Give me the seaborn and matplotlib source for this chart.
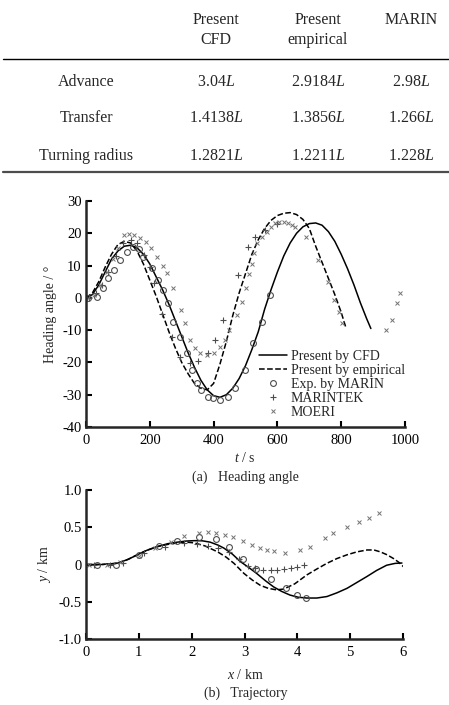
import numpy as np
import pandas as pd
import matplotlib
matplotlib.use('Agg')
import matplotlib.pyplot as plt
import seaborn as sns

sns.set_style('ticks')
plt.rcParams['font.family'] = ['Liberation Serif', 'DejaVu Serif']
plt.rcParams['mathtext.fontset'] = 'custom'
plt.rcParams['mathtext.rm'] = 'Liberation Serif'
plt.rcParams['mathtext.it'] = 'Liberation Serif:italic'
plt.rcParams['axes.unicode_minus'] = False

# table
col_heads = ['Present\nCFD', 'Present\nempirical', 'MARIN']
row_names = ['Advance', 'Transfer', 'Turning radius']
tab_vals = [['3.04', '2.9184', '2.98'],
            ['1.4138', '1.3856', '1.266'],
            ['1.2821', '1.2211', '1.228']]

# (a) heading angle
t_cfd = [0, 20, 40, 60, 80, 100, 120, 140, 160, 180, 200, 220, 240, 260, 280, 300, 320, 340, 360, 380,
         400, 420, 440, 460, 480, 500, 520, 540, 560, 580, 600, 620, 640, 660, 680, 700, 720, 740, 760,
         780, 800, 820, 840, 860, 880, 893]
h_cfd = [0, 1, 4, 8, 12, 14.5, 16, 16.3, 15.5, 13.5, 10.5, 6.5, 2.5, -2, -7, -12, -17, -21.5, -25.5, -28.5,
         -30.3, -30.8, -30, -28, -25, -21, -16, -10.5, -3.5, 2.5, 8, 13, 17, 20, 22, 23, 23.2, 22.5, 20.5,
         17.5, 13.5, 9, 4, -1.5, -6.5, -9.5]
t_emp = [0, 20, 40, 60, 80, 100, 120, 140, 160, 180, 200, 220, 240, 260, 280, 300, 320, 340, 360, 380,
         400, 420, 440, 460, 480, 500, 520, 540, 560, 580, 600, 620, 640, 660, 680, 700, 720, 740, 760,
         780, 800, 814]
h_emp = [0, 1.5, 5, 9.5, 13.5, 16.5, 17.5, 17, 14.5, 10.5, 5.5, 0.5, -5, -10.5, -15.5, -20, -23.5, -26.5,
         -28, -28.5, -26.5, -20.5, -13.5, -5.5, 1.5, 7.5, 13.5, 18, 21.5, 24, 25.5, 26.2, 26.4, 25.8, 24.3,
         21.5, 16, 11, 6, 1, -4.5, -9]
t_marin = [7, 34, 54, 70, 88, 107, 128, 148, 165, 180, 206, 227, 242, 258, 274, 295, 316, 331, 347, 362,
           383, 398, 420, 446, 467, 498, 525, 551, 577]
h_marin = [0, 0.2, 3, 6, 8.6, 11.7, 14.3, 15.7, 15, 12.8, 9.2, 5.5, 2.4, -1.7, -7.4, -12, -17.2, -22.3,
           -26.4, -28.5, -30.6, -31, -31.6, -30.6, -28, -22.3, -14, -7.4, 0.9]
t_mtek = [10, 30, 50, 70, 93, 115, 140, 160, 182, 200, 213, 239, 269, 295, 326, 352, 383, 404, 430, 477,
          509, 530, 561, 598]
h_mtek = [0, 1.5, 4, 8, 13, 17, 18, 17, 13.3, 9.5, 4.5, -5, -12, -18.2, -20.3, -19.7, -17.2, -13, -6.8,
          7.1, 15.9, 19, 21, 23]
t_moeri = [5, 25, 45, 65, 85, 100, 119, 135, 150, 168, 187, 205, 224, 240, 255, 274, 297, 310, 326, 342,
           357, 378, 400, 420, 436, 449, 472, 488, 500, 512, 520, 528, 537, 551, 566, 580, 592, 605, 620,
           634, 645, 655, 690, 728, 760, 778, 794, 804, 942, 958, 976, 984]
h_moeri = [0, 1, 4, 8, 12, 15.5, 19.5, 19.7, 19.5, 18.5, 17.4, 15.5, 12.8, 10, 7.6, 3, -3.7, -7.9, -13,
           -15.6, -17.2, -17.7, -17, -15.1, -13, -9.9, -5.3, -1.2, 3, 7.5, 10.5, 13.8, 16.9, 19, 20.5, 22,
           23.1, 23.5, 23.4, 23.1, 22.6, 22, 18.8, 11.7, 5, -0.7, -4.3, -7.7, -10, -6.8, -1.7, 1.4]

# (b) trajectory
x_cfd = [0, 0.3, 0.59, 0.8, 0.97, 1.15, 1.35, 1.55, 1.73, 1.9, 2.05, 2.2, 2.35, 2.5, 2.61, 2.77, 2.92,
         3.08, 3.23, 3.4, 3.55, 3.7, 3.86, 4.02, 4.18, 4.37, 4.56, 4.75, 4.94, 5.13, 5.32, 5.5, 5.69,
         5.85, 5.98]
y_cfd = [0, 0, 0.016, 0.07, 0.13, 0.19, 0.24, 0.28, 0.30, 0.315, 0.32, 0.318, 0.30, 0.26, 0.22, 0.14,
         0.04, -0.04, -0.12, -0.22, -0.30, -0.36, -0.41, -0.44, -0.45, -0.45, -0.43, -0.38, -0.32, -0.24,
         -0.16, -0.08, -0.01, 0.015, 0.02]
x_emp = [0, 0.3, 0.59, 0.8, 0.97, 1.15, 1.35, 1.55, 1.73, 1.9, 2.05, 2.25, 2.49, 2.65, 2.8, 2.99, 3.15,
         3.3, 3.45, 3.6, 3.74, 3.95, 4.18, 4.37, 4.56, 4.75, 4.94, 5.13, 5.32, 5.45, 5.57, 5.7, 5.82,
         5.92, 6.01]
y_emp = [0, 0, 0.016, 0.07, 0.13, 0.19, 0.24, 0.27, 0.29, 0.30, 0.29, 0.25, 0.17, 0.10, 0.016, -0.12,
         -0.21, -0.28, -0.32, -0.34, -0.33, -0.26, -0.14, -0.06, 0.016, 0.08, 0.13, 0.17, 0.195, 0.195,
         0.17, 0.13, 0.08, 0.03, -0.03]
x_marin = [0.21, 0.56, 1.0, 1.38, 1.73, 2.14, 2.46, 2.71, 2.98, 3.22, 3.50, 3.78, 4.0, 4.17]
y_marin = [0, 0, 0.13, 0.25, 0.31, 0.37, 0.34, 0.23, 0.08, -0.06, -0.19, -0.32, -0.41, -0.45]
x_mtek = [0.15, 0.45, 0.7, 1.1, 1.5, 1.85, 2.1, 2.3, 2.5, 2.7, 2.9, 3.06, 3.2, 3.35, 3.5, 3.62, 3.75,
          3.88, 4.0, 4.12]
y_mtek = [0, 0, 0.02, 0.15, 0.24, 0.29, 0.27, 0.25, 0.22, 0.17, 0.08, -0.02, -0.05, -0.07, -0.07, -0.07,
          -0.06, -0.05, -0.03, 0.0]
x_moeri = [0.05, 0.4, 0.65, 1.0, 1.3, 1.6, 1.86, 2.14, 2.3, 2.46, 2.63, 2.79, 2.98, 3.14, 3.30, 3.42,
           3.55, 3.77, 4.05, 4.24, 4.53, 4.68, 4.94, 5.16, 5.35, 5.54]
y_moeri = [0, 0, 0.03, 0.12, 0.22, 0.3, 0.38, 0.42, 0.43, 0.42, 0.40, 0.37, 0.31, 0.26, 0.22, 0.195,
           0.18, 0.15, 0.195, 0.24, 0.35, 0.42, 0.51, 0.575, 0.63, 0.69]

W, H = 449, 705
fig = plt.figure(figsize=(W / 100, H / 100), dpi=100)


def fx(px):
    return px / W


def fy(px):
    return 1 - px / H


# ---- table ----
col_x = [216, 318, 411]
row_y = [82, 118, 156]
fs_tab = 11.5
for cx, head in zip(col_x, col_heads):
    fig.text(fx(cx), fy(12), head, ha='center', va='top', fontsize=fs_tab, linespacing=1.3)
for ry, name, vals in zip(row_y, row_names, tab_vals):
    fig.text(fx(86), fy(ry), name, ha='center', va='center', fontsize=fs_tab)
    for cx, v in zip(col_x, vals):
        fig.text(fx(cx), fy(ry), v + '$L$', ha='center', va='center', fontsize=fs_tab)
fig.add_artist(plt.Line2D([fx(3), 1], [fy(59), fy(59)], color='k', lw=1.0))
fig.add_artist(plt.Line2D([fx(3), 1], [fy(172), fy(172)], color='0.3', lw=1.6))

mk = dict(linestyle='', estimator=None, sort=False)
circ = dict(marker='o', markersize=4.2, markerfacecolor='none', markeredgecolor='0.3',
            markeredgewidth=0.8, color='0.3')
plus = dict(marker='+', markersize=5, markeredgewidth=0.8, markeredgecolor='0.3', color='0.3')
cross = dict(marker='x', markersize=3.5, markeredgewidth=0.7, markeredgecolor='0.45', color='0.45')


def style_ax(ax):
    sns.despine(ax=ax)
    for s in ['left', 'bottom']:
        ax.spines[s].set_linewidth(1.8)
    ax.tick_params(direction='in', length=4, width=1.5, labelsize=10.5, colors='k')
    ax.tick_params(axis='x', pad=5)
    ax.tick_params(axis='y', pad=3)


# ---- (a) heading angle ----
ax1 = fig.add_axes([fx(86), fy(427), fx(405) - fx(86), fy(201) - fy(427)])
sns.lineplot(x=t_cfd, y=h_cfd, ax=ax1, color='k', lw=1.1, label='Present by CFD')
sns.lineplot(x=t_emp, y=h_emp, ax=ax1, color='k', lw=1.1, linestyle='--', dashes=(3.5, 2),
             label='Present by empirical')
sns.lineplot(x=t_marin, y=h_marin, ax=ax1, label='Exp. by MARIN', **circ, **mk)
sns.lineplot(x=t_mtek, y=h_mtek, ax=ax1, label='MARINTEK', **plus, **mk)
sns.lineplot(x=t_moeri, y=h_moeri, ax=ax1, label='MOERI', **cross, **mk)
ax1.set_xlim(0, 1000)
ax1.set_ylim(-40, 30)
ax1.set_xticks([0, 200, 400, 600, 800, 1000])
ax1.set_yticks([-40, -30, -20, -10, 0, 10, 20, 30])
ax1.set_xlabel('')
ax1.set_ylabel('Heading angle / °', fontsize=10, labelpad=4)
style_ax(ax1)
leg = ax1.legend(loc='upper left', bbox_to_anchor=(0.52, 0.372), frameon=False, fontsize=10,
                 handlelength=2.0, handletextpad=0.3, labelspacing=0.08, borderpad=0)
fig.text(fx(245), fy(458), '$t$ / s', ha='center', va='center', fontsize=10)
fig.text(fx(245), fy(477), '(a)   Heading angle', ha='center', va='center', fontsize=10)

# ---- (b) trajectory ----
ax2 = fig.add_axes([fx(86), fy(639), fx(403) - fx(86), fy(490) - fy(639)])
sns.lineplot(x=x_cfd, y=y_cfd, ax=ax2, color='k', lw=1.1, sort=False, estimator=None)
sns.lineplot(x=x_emp, y=y_emp, ax=ax2, color='k', lw=1.1, linestyle='--', dashes=(3.5, 2),
             sort=False, estimator=None)
sns.lineplot(x=x_marin, y=y_marin, ax=ax2, **circ, **mk)
sns.lineplot(x=x_mtek, y=y_mtek, ax=ax2, **plus, **mk)
sns.lineplot(x=x_moeri, y=y_moeri, ax=ax2, **cross, **mk)
ax2.set_xlim(0, 6)
ax2.set_ylim(-1.0, 1.0)
ax2.set_xticks([0, 1, 2, 3, 4, 5, 6])
ax2.set_yticks([-1.0, -0.5, 0, 0.5, 1.0])
ax2.set_yticklabels(['-1.0', '-0.5', '0', '0.5', '1.0'])
ax2.set_ylabel('$y$ / km', fontsize=10, labelpad=4)
ax2.set_xlabel('')
style_ax(ax2)
fig.text(fx(245), fy(675), '$x$ / km', ha='center', va='center', fontsize=10)
fig.text(fx(246), fy(693), '(b)   Trajectory', ha='center', va='center', fontsize=10)

fig.savefig('out.png', dpi=100)
